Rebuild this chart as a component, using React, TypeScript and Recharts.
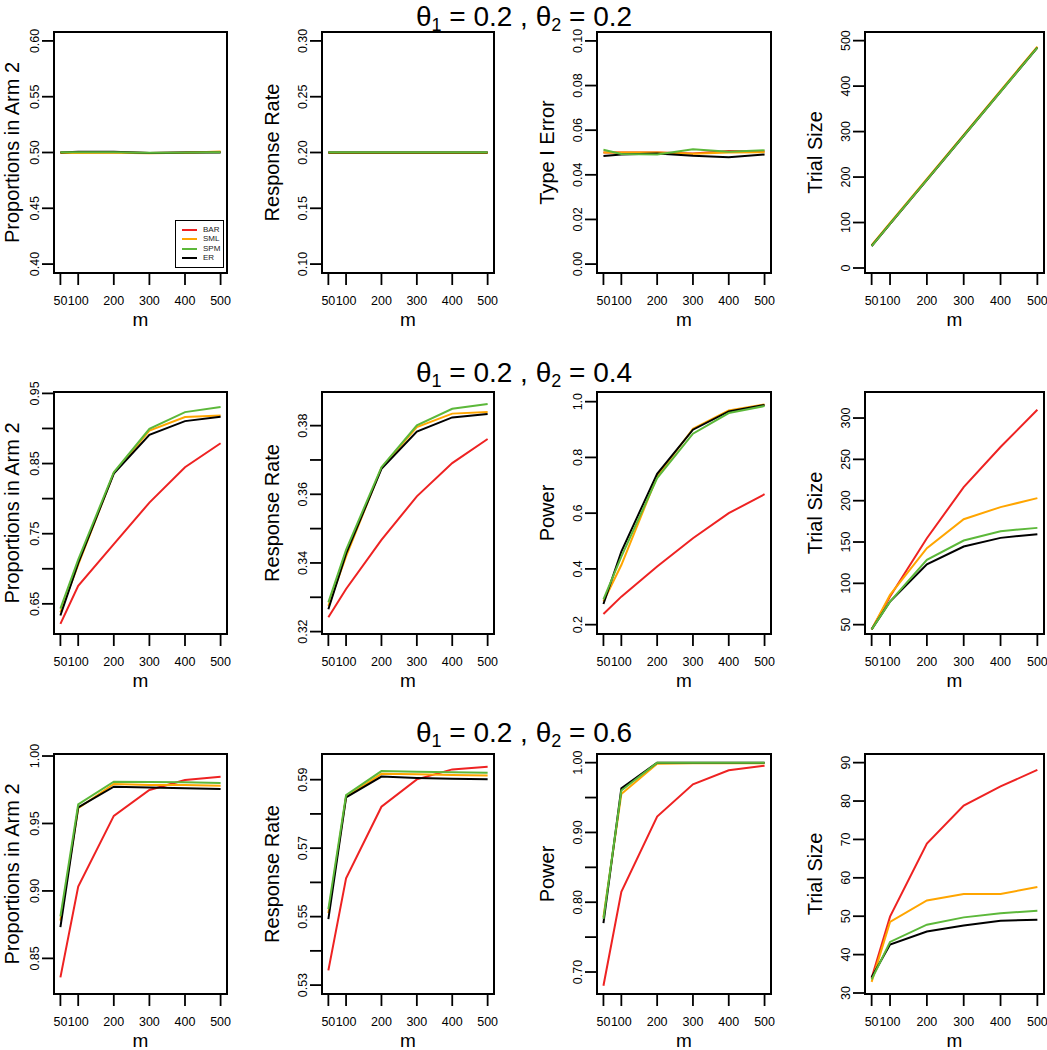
import React from 'react';
import { LineChart, Line, XAxis, YAxis, ReferenceArea, Legend, Label } from 'recharts';

const FONT = '"Liberation Sans", Arial, Helvetica, sans-serif';

// ---------- data ----------
const mValues = [50, 100, 200, 300, 400, 500];
const seriesNames = ['BAR', 'SML', 'SPM', 'ER'];
const drawOrder = ['BAR', 'SML', 'ER', 'SPM'];
const seriesColors: Record<string, string> = { BAR: '#ee2222', SML: '#ffa500', SPM: '#5cb83a', ER: '#000000' };

const theta1Values = ['0.2', '0.2', '0.2'];
const theta2Values = ['0.2', '0.4', '0.6'];
const yLabels = ['Proportions in Arm 2', 'Response Rate', 'Type I Error', 'Trial Size'];
const yLabelsPower = ['Proportions in Arm 2', 'Response Rate', 'Power', 'Trial Size'];

// theta2 = 0.2
const armBAR_02 = [0.5, 0.5, 0.5003, 0.4996, 0.5, 0.5004];
const armSML_02 = [0.4995, 0.4995, 0.4997, 0.4994, 0.4998, 0.501];
const armSPM_02 = [0.5003, 0.5002, 0.5003, 0.4998, 0.5001, 0.5003];
const armER_02 = [0.5, 0.5007, 0.5007, 0.4996, 0.5, 0.5001];
const rrBAR_02 = [0.2, 0.2, 0.2, 0.2, 0.2, 0.2];
const rrSML_02 = [0.1996, 0.1996, 0.1996, 0.1996, 0.1996, 0.1996];
const rrSPM_02 = [0.2003, 0.2003, 0.2003, 0.2003, 0.2003, 0.2003];
const rrER_02 = [0.2001, 0.2001, 0.2001, 0.2001, 0.2001, 0.2001];
const errBAR_02 = [0.05, 0.05, 0.05, 0.0496, 0.0507, 0.0505];
const errSML_02 = [0.05, 0.05, 0.05, 0.0494, 0.05, 0.0501];
const errSPM_02 = [0.0512, 0.0493, 0.0491, 0.0515, 0.0503, 0.051];
const errER_02 = [0.0484, 0.0491, 0.0496, 0.0485, 0.0479, 0.0491];
const sizeBAR_02 = [48.5, 97, 194, 291, 388, 485];
const sizeSML_02 = [50, 99, 196, 293, 390, 487];
const sizeSPM_02 = [48.3, 96.8, 193.7, 290.6, 387.6, 484.6];
const sizeER_02 = [48.4, 96.9, 193.9, 290.8, 387.8, 484.8];

// theta2 = 0.4
const armBAR_04 = [0.6214, 0.6757, 0.7352, 0.7943, 0.8448, 0.879];
const armSML_04 = [0.638, 0.7057, 0.8365, 0.8971, 0.9162, 0.9186];
const armSPM_04 = [0.6433, 0.7129, 0.8376, 0.8995, 0.9233, 0.9305];
const armER_04 = [0.6333, 0.708, 0.8357, 0.891, 0.9105, 0.9167];
const rrBAR_04 = [0.3242, 0.3324, 0.3467, 0.3594, 0.3691, 0.3761];
const rrSML_04 = [0.3275, 0.3419, 0.3677, 0.3796, 0.3835, 0.384];
const rrSPM_04 = [0.3285, 0.3438, 0.3679, 0.3801, 0.3849, 0.3863];
const rrER_04 = [0.3265, 0.3427, 0.3674, 0.3783, 0.3824, 0.3834];
const powBAR_04 = [0.2383, 0.3006, 0.4084, 0.51, 0.6, 0.668];
const powSML_04 = [0.283, 0.414, 0.7317, 0.903, 0.9689, 0.99];
const powSPM_04 = [0.291, 0.444, 0.7257, 0.885, 0.9593, 0.9844];
const powER_04 = [0.2743, 0.4623, 0.7413, 0.8994, 0.965, 0.988];
const sizeBAR_04 = [44.3, 84, 154.6, 216.4, 264.9, 310];
const sizeSML_04 = [44.3, 86, 142.5, 177.6, 192.2, 203.1];
const sizeSPM_04 = [44.3, 77.9, 128.4, 151.8, 163.1, 167.1];
const sizeER_04 = [44.3, 78, 123.1, 144.5, 155, 159.5];

// theta2 = 0.6
const armBAR_06 = [0.8359, 0.9033, 0.9556, 0.9748, 0.9822, 0.9847];
const armSML_06 = [0.878, 0.9613, 0.9793, 0.9785, 0.9785, 0.978];
const armSPM_06 = [0.8811, 0.9642, 0.981, 0.9808, 0.9805, 0.98];
const armER_06 = [0.8732, 0.962, 0.9773, 0.9766, 0.9761, 0.9756];
const rrBAR_06 = [0.5343, 0.5612, 0.5821, 0.5901, 0.593, 0.5938];
const rrSML_06 = [0.551, 0.585, 0.5917, 0.5916, 0.5914, 0.5912];
const rrSPM_06 = [0.5522, 0.5855, 0.5925, 0.5923, 0.5922, 0.592];
const rrER_06 = [0.5493, 0.5848, 0.5909, 0.5905, 0.5903, 0.5901];
const powBAR_06 = [0.6804, 0.8149, 0.9227, 0.969, 0.989, 0.9957];
const powSML_06 = [0.7787, 0.955, 0.9985, 0.999, 0.999, 0.999];
const powSPM_06 = [0.776, 0.96, 1.0, 1.0, 1.0, 1.0];
const powER_06 = [0.77, 0.9632, 1.0, 1.0, 1.0, 1.0];
const sizeBAR_06 = [33.9, 49.9, 68.9, 78.8, 83.8, 88.1];
const sizeSML_06 = [32.9, 48.5, 54.1, 55.8, 55.8, 57.6];
const sizeSPM_06 = [33.5, 43.3, 47.8, 49.7, 50.8, 51.4];
const sizeER_06 = [34.1, 42.6, 46.0, 47.6, 48.8, 49.1];

// axis ticks / domains
const xDomain = [32, 518];
const armTicks_02 = [0.4, 0.45, 0.5, 0.55, 0.6];
const rrTicks_02 = [0.1, 0.15, 0.2, 0.25, 0.3];
const errTicks_02 = [0, 0.02, 0.04, 0.06, 0.08, 0.1];
const sizeTicks_02 = [0, 100, 200, 300, 400, 500];
const armTicks_04 = [0.65, 0.7, 0.75, 0.8, 0.85, 0.9, 0.95];
const armLabels_04 = [0.65, 0.75, 0.85, 0.95];
const rrTicks_04 = [0.32, 0.33, 0.34, 0.35, 0.36, 0.37, 0.38];
const rrLabels_04 = [0.32, 0.34, 0.36, 0.38];
const powTicks_04 = [0.2, 0.4, 0.6, 0.8, 1.0];
const sizeTicks_04 = [50, 100, 150, 200, 250, 300];
const armTicks_06 = [0.85, 0.9, 0.95, 1.0];
const rrTicks_06 = [0.53, 0.54, 0.55, 0.56, 0.57, 0.58, 0.59];
const rrLabels_06 = [0.53, 0.55, 0.57, 0.59];
const powTicks_06 = [0.7, 0.75, 0.8, 0.85, 0.9, 0.95, 1.0];
const powLabels_06 = [0.7, 0.8, 0.9, 1.0];
const sizeTicks_06 = [30, 40, 50, 60, 70, 80, 90];

const armDomain_02 = [0.392, 0.608];
const rrDomain_02 = [0.092, 0.308];
const errDomain_02 = [-0.004, 0.104];
const sizeDomain_02 = [-11, 519];
const armDomain_04 = [0.607, 0.952];
const rrDomain_04 = [0.3193, 0.3898];
const powDomain_04 = [0.1665, 1.0347];
const sizeDomain_04 = [38.7, 331.5];
const armDomain_06 = [0.8236, 1.0015];
const rrDomain_06 = [0.5274, 0.5975];
const powDomain_06 = [0.6685, 1.0124];
const sizeDomain_06 = [29.74, 92.25];

// ---------- layout ----------
const boxLefts = [54, 322, 597, 865];
const boxWidths = [173, 172, 174, 179];
const yLabelGaps = [35, 43, 43, 43];
const rowTops = [32, 392, 754];
const rowHeights = [241, 242, 240];
const titleBaselines = [26, 382, 742];
const ML = 60; // plot left inside chart
const MT = 10; // plot top inside chart

type PanelCfg = {
  series: Record<string, number[]>;
  domain: number[];
  ticks: number[];
  labels: number[];
  digits: number;
  yLabel: string;
  legend?: boolean;
};

const panels: PanelCfg[][] = [
  [
    { series: { BAR: armBAR_02, SML: armSML_02, SPM: armSPM_02, ER: armER_02 }, domain: armDomain_02, ticks: armTicks_02, labels: armTicks_02, digits: 2, yLabel: yLabels[0], legend: true },
    { series: { BAR: rrBAR_02, SML: rrSML_02, SPM: rrSPM_02, ER: rrER_02 }, domain: rrDomain_02, ticks: rrTicks_02, labels: rrTicks_02, digits: 2, yLabel: yLabels[1] },
    { series: { BAR: errBAR_02, SML: errSML_02, SPM: errSPM_02, ER: errER_02 }, domain: errDomain_02, ticks: errTicks_02, labels: errTicks_02, digits: 2, yLabel: yLabels[2] },
    { series: { BAR: sizeBAR_02, SML: sizeSML_02, SPM: sizeSPM_02, ER: sizeER_02 }, domain: sizeDomain_02, ticks: sizeTicks_02, labels: sizeTicks_02, digits: 0, yLabel: yLabels[3] },
  ],
  [
    { series: { BAR: armBAR_04, SML: armSML_04, SPM: armSPM_04, ER: armER_04 }, domain: armDomain_04, ticks: armTicks_04, labels: armLabels_04, digits: 2, yLabel: yLabelsPower[0] },
    { series: { BAR: rrBAR_04, SML: rrSML_04, SPM: rrSPM_04, ER: rrER_04 }, domain: rrDomain_04, ticks: rrTicks_04, labels: rrLabels_04, digits: 2, yLabel: yLabelsPower[1] },
    { series: { BAR: powBAR_04, SML: powSML_04, SPM: powSPM_04, ER: powER_04 }, domain: powDomain_04, ticks: powTicks_04, labels: powTicks_04, digits: 1, yLabel: yLabelsPower[2] },
    { series: { BAR: sizeBAR_04, SML: sizeSML_04, SPM: sizeSPM_04, ER: sizeER_04 }, domain: sizeDomain_04, ticks: sizeTicks_04, labels: sizeTicks_04, digits: 0, yLabel: yLabelsPower[3] },
  ],
  [
    { series: { BAR: armBAR_06, SML: armSML_06, SPM: armSPM_06, ER: armER_06 }, domain: armDomain_06, ticks: armTicks_06, labels: armTicks_06, digits: 2, yLabel: yLabelsPower[0] },
    { series: { BAR: rrBAR_06, SML: rrSML_06, SPM: rrSPM_06, ER: rrER_06 }, domain: rrDomain_06, ticks: rrTicks_06, labels: rrLabels_06, digits: 2, yLabel: yLabelsPower[1] },
    { series: { BAR: powBAR_06, SML: powSML_06, SPM: powSPM_06, ER: powER_06 }, domain: powDomain_06, ticks: powTicks_06, labels: powLabels_06, digits: 2, yLabel: yLabelsPower[2] },
    { series: { BAR: sizeBAR_06, SML: sizeSML_06, SPM: sizeSPM_06, ER: sizeER_06 }, domain: sizeDomain_06, ticks: sizeTicks_06, labels: sizeTicks_06, digits: 0, yLabel: yLabelsPower[3] },
  ],
];

const LegendBox = () => (
  <div
    style={{
      border: '1.5px solid #000',
      width: 49,
      height: 48,
      boxSizing: 'border-box',
      padding: '4px 0 0 6px',
      background: '#fff',
      fontFamily: FONT,
      fontSize: 8,
      color: '#222',
      lineHeight: 1,
    }}
  >
    {seriesNames.map((n) => (
      <div key={n} style={{ display: 'flex', alignItems: 'center', height: 9.5 }}>
        <span style={{ display: 'inline-block', width: 15, height: 2, background: seriesColors[n], marginRight: 6 }} />
        <span>{n}</span>
      </div>
    ))}
  </div>
);

function Panel({ cfg, left, top, w, h, labelGap }: { cfg: PanelCfg; left: number; top: number; w: number; h: number; labelGap: number }) {
  const data = mValues.map((m, i) => ({
    m,
    BAR: cfg.series.BAR[i],
    SML: cfg.series.SML[i],
    SPM: cfg.series.SPM[i],
    ER: cfg.series.ER[i],
  }));
  const chartLeft = left - ML;
  const chartTop = top - MT;
  const YTick = (props: any) => {
    const v = props.payload.value;
    const show = cfg.labels.some((l) => Math.abs(l - v) < 1e-9);
    if (!show) return <g />;
    return (
      <text
        transform={`translate(${ML - 15},${props.y}) rotate(-90)`}
        textAnchor="middle"
        fontSize={12.5}
        fontFamily={FONT}
        fill="#000"
      >
        {v.toFixed(cfg.digits)}
      </text>
    );
  };
  return (
    <div style={{ position: 'absolute', left: chartLeft, top: chartTop }}>
      <LineChart width={w + ML + 10} height={h + MT + 60} data={data} margin={{ top: MT, right: 10, left: 0, bottom: 0 }}>
        <XAxis
          dataKey="m"
          type="number"
          domain={xDomain}
          ticks={mValues}
          interval={0}
          allowDataOverflow
          tickSize={12}
          tickMargin={11}
          height={60}
          stroke="#000"
          axisLine={{ stroke: '#000', strokeWidth: 2 }}
          tickLine={{ stroke: '#000', strokeWidth: 1.8 }}
          tick={{ fontSize: 12.5, fill: '#000', fontFamily: FONT }}
        >
          <Label
            content={() => (
              <text x={ML + w / 2} y={MT + h + 53} textAnchor="middle" fontSize={19} fontFamily={FONT} fill="#000">
                m
              </text>
            )}
          />
        </XAxis>
        <YAxis
          type="number"
          domain={cfg.domain}
          ticks={cfg.ticks}
          interval={0}
          allowDataOverflow
          width={ML}
          tickSize={12}
          axisLine={{ stroke: '#000', strokeWidth: 2 }}
          tickLine={{ stroke: '#000', strokeWidth: 1.8 }}
          tick={YTick}
        >
          <Label
            content={() => (
              <text
                transform={`translate(${ML - labelGap},${MT + h / 2}) rotate(-90)`}
                textAnchor="middle"
                fontSize={20}
                fontFamily={FONT}
                fill="#000"
              >
                {cfg.yLabel}
              </text>
            )}
          />
        </YAxis>
        <ReferenceArea
          x1={xDomain[0]}
          x2={xDomain[1]}
          y1={cfg.domain[0]}
          y2={cfg.domain[1]}
          fill="none"
          fillOpacity={0}
          stroke="#000"
          strokeWidth={2}
          ifOverflow="visible"
        />
        {drawOrder.map((s) => (
          <Line
            key={s}
            type="linear"
            dataKey={s}
            stroke={seriesColors[s]}
            strokeWidth={2}
            dot={false}
            activeDot={false}
            isAnimationActive={false}
          />
        ))}
        {cfg.legend && (
          <Legend
            layout="horizontal"
            verticalAlign="middle"
            align="center"
            content={() => <LegendBox />}
            wrapperStyle={{ left: 175 - chartLeft, top: 220 - chartTop, right: 'auto', bottom: 'auto', width: 49, height: 48 }}
          />
        )}
      </LineChart>
    </div>
  );
}

export default function App() {
  return (
    <div style={{ position: 'absolute', left: 0, top: 0, width: 1047, height: 1050, background: '#fff', overflow: 'hidden' }}>
      <svg width={1047} height={1050} style={{ position: 'absolute', left: 0, top: 0 }}>
        {theta2Values.map((t2, i) => (
          <text key={i} x={524} y={titleBaselines[i]} textAnchor="middle" fontSize={28} fontFamily={FONT} fill="#000">
            θ<tspan fontSize={18} dy={5}>1</tspan>
            <tspan dy={-5}>{` = ${theta1Values[i]} , θ`}</tspan>
            <tspan fontSize={18} dy={5}>2</tspan>
            <tspan dy={-5}>{` = ${t2}`}</tspan>
          </text>
        ))}
      </svg>
      {panels.map((row, r) =>
        row.map((cfg, c) => (
          <Panel
            key={`${r}-${c}`}
            cfg={cfg}
            left={boxLefts[c]}
            top={rowTops[r]}
            w={boxWidths[c]}
            h={rowHeights[r]}
            labelGap={yLabelGaps[c]}
          />
        ))
      )}
    </div>
  );
}
